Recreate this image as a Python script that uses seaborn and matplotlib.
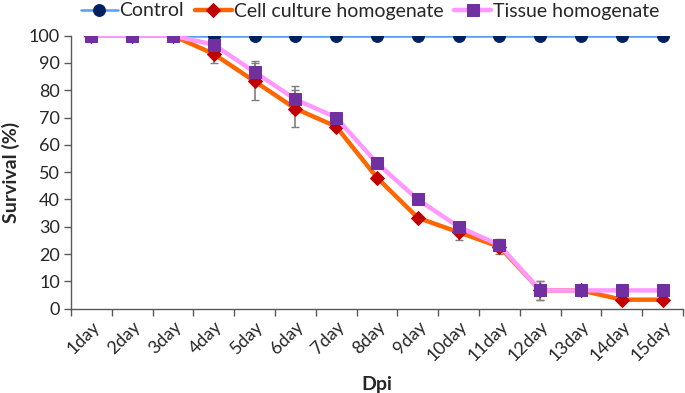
import matplotlib
matplotlib.use("Agg")
import matplotlib.pyplot as plt
import seaborn as sns
import pandas as pd
import numpy as np

days = ["1day", "2day", "3day", "4day", "5day", "6day", "7day", "8day",
        "9day", "10day", "11day", "12day", "13day", "14day", "15day"]
control = [100] * 15
cell = [100, 100, 100, 93.3, 83.3, 73.3, 66.7, 48.0, 33.3, 28.0, 22.7, 6.7, 6.7, 3.3, 3.3]
cell_err = [0, 0, 0, 3.3, 6.7, 6.7, 0.8, 1.0, 1.2, 2.7, 2.7, 3.5, 0.5, 0.5, 0.5]
tissue = [100, 100, 100, 96.7, 86.7, 76.7, 70.0, 53.3, 40.0, 30.0, 23.3, 6.7, 6.7, 6.7, 6.7]
tissue_err = [0, 0, 0, 0.5, 4.0, 5.0, 0.5, 0.5, 0.5, 1.0, 2.0, 3.5, 0.5, 0.5, 0.5]

sns.set_theme(style="white")
plt.rcParams['font.family'] = ['Lato', 'DejaVu Sans']

fig = plt.figure(figsize=(6.85, 3.93), dpi=100)
ax = fig.add_axes([71/685, 1-308.7/393, (683-71)/685, (308.7-35.7)/393])

x = np.arange(len(days))
df = pd.DataFrame({"x": x, "Control": control, "Cell": cell, "Tissue": tissue})

ax.errorbar(x, cell, yerr=cell_err, fmt='none', ecolor='#7f7f7f', elinewidth=1.2, capsize=3, zorder=1)
ax.errorbar(x, tissue, yerr=tissue_err, fmt='none', ecolor='#7f7f7f', elinewidth=1.2, capsize=3, zorder=1)

sns.lineplot(data=df, x="x", y="Control", ax=ax, color='#5B9BF5', linewidth=1.8,
             marker='o', markersize=8.5, markerfacecolor='#002060', markeredgecolor='#002060',
             label='Control', zorder=2)
sns.lineplot(data=df, x="x", y="Cell", ax=ax, color='#FF6600', linewidth=3.2,
             marker='D', markersize=7.5, markerfacecolor='#C00000', markeredgecolor='#C00000',
             label='Cell culture homogenate', zorder=3)
sns.lineplot(data=df, x="x", y="Tissue", ax=ax, color='#FF99FF', linewidth=3.2,
             marker='s', markersize=8.5, markerfacecolor='#7030A0', markeredgecolor='#7030A0',
             label='Tissue homogenate', zorder=4)

ax.set_xlim(-0.5, len(days) - 0.5)
ax.set_ylim(0, 100)
ax.set_yticks(range(0, 101, 10))
ax.set_xticks(np.arange(-0.5, len(days), 1.0))
ax.set_xticklabels([])
ax.set_xticks(x, minor=True)
ax.set_xticklabels(days, minor=True, rotation=45, ha='right', rotation_mode='anchor', fontsize=13)
ax.tick_params(axis='x', which='minor', length=0, pad=7)
ax.tick_params(axis='x', which='major', length=5, width=1, color='#595959', direction='out', bottom=True)
ax.tick_params(axis='y', length=5, width=1, color='#595959', direction='out', left=True, labelsize=13, pad=3)

for s in ['top', 'right']:
    ax.spines[s].set_visible(False)
for s in ['left', 'bottom']:
    ax.spines[s].set_color('#595959')
    ax.spines[s].set_linewidth(1)

ax.set_xlabel("Dpi", fontsize=14, fontweight='bold', labelpad=8)
ax.set_ylabel("Survival (%)", fontsize=14, fontweight='bold', labelpad=6)

ax.legend(loc='center', bbox_to_anchor=(370/685, 1-11/393), bbox_transform=fig.transFigure,
          ncol=3, frameon=False, fontsize=14, handlelength=1.9, handletextpad=0.1,
          columnspacing=0.55, borderaxespad=0)

fig.savefig("out.png", dpi=100)
